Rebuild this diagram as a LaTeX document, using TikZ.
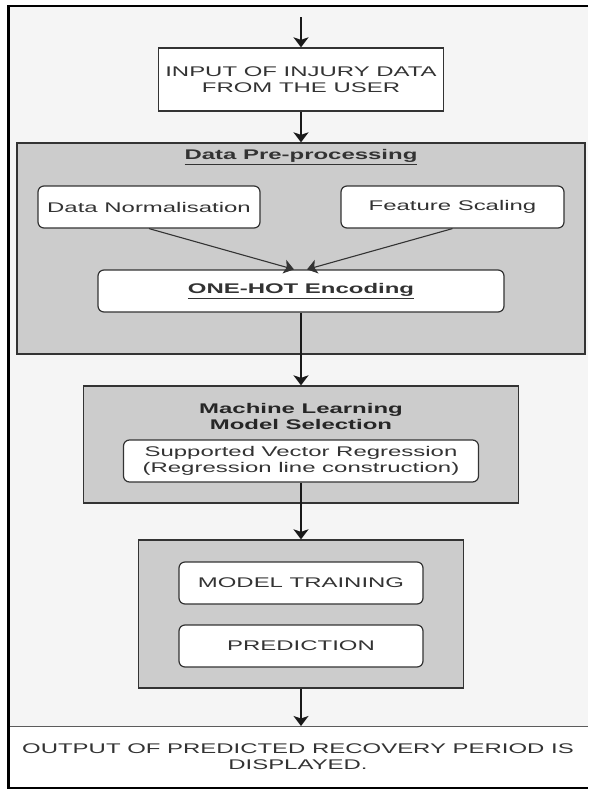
\documentclass[tikz,border=0pt]{standalone}
\usepackage{fontspec}
\setmainfont[FakeStretch=1.71]{Liberation Sans}
\usetikzlibrary{arrows.meta,calc}
\definecolor{bgc}{HTML}{F5F5F5}
\definecolor{grayfill}{HTML}{CCCCCC}
\definecolor{txt}{HTML}{333333}
\definecolor{edgec}{HTML}{333333}
\begin{document}
\begin{tikzpicture}[x=1pt,y=-1pt,
  every node/.style={font=\fontsize{14}{15.5}\selectfont, text=txt, inner sep=0pt},
  group/.style={draw=edgec, fill=grayfill, line width=1.3pt},
  rbox/.style={draw=edgec, fill=white, rounded corners=6pt, line width=1.2pt, align=center},
  sqbox/.style={draw=edgec, fill=white, line width=1.3pt, align=center},
  conn/.style={draw=black!90, line width=1.7pt, -{Stealth[width=15pt,length=10pt,inset=2.5pt]}},
  diag/.style={draw=edgec, line width=1.1pt, -{Stealth[width=14pt,length=10pt,inset=2.5pt]}},
]
\useasboundingbox (0,0) rectangle (589,790);
\fill[white] (0,0) rectangle (589,790);
\fill[bgc] (8.5,6) rectangle (588,788);

% output box (behind frame)
\fill[white] (8.5,726) rectangle (588,788);
\node[minimum width=579.5, minimum height=62, anchor=north west] (outbox) at (8.5,726) {};
\draw[draw=edgec!80, line width=1pt] (outbox.north west) -- (outbox.north east);
\node[align=center] (outtxt) at (298,756.5) {OUTPUT OF PREDICTED RECOVERY PERIOD IS\\DISPLAYED.};

% frame
\draw[line width=2.5pt] (588,6) -- (8.5,6) -- (8.5,788) -- (588,788);

% input
\coordinate (start) at (301,17);
\node[sqbox, minimum width=285, minimum height=63] (inp) at (301,79.5) {INPUT OF INJURY DATA\\FROM THE USER};

% pre-processing group
\node[group, minimum width=568, minimum height=211] (pre) at (301,248.5) {};
\node (pretitle) at (301,157) {\bfseries\underline{Data Pre-processing}};
\node[rbox, minimum width=222, minimum height=42] (dn) at (149,207) {Data Normalisation};
\node[rbox, minimum width=223, minimum height=42] (fs) at (452.5,207) {Feature Scaling};
\node[rbox, minimum width=406, minimum height=42] (oh) at (301,291) {\bfseries\underline{ONE-HOT Encoding}};

% ML group
\node[group, minimum width=435, minimum height=117] (ml) at (301,444.5) {};
\node[align=center, text=black!85] (mltitle) at (301,416.5) {\bfseries Machine Learning\\\bfseries Model Selection};
\node[rbox, minimum width=355, minimum height=42] (svr) at (301,461) {Supported Vector Regression\\(Regression line construction)};

% training group
\node[group, minimum width=325, minimum height=148] (trg) at (301,614) {};
\node[rbox, minimum width=244, minimum height=42] (mt) at (301,583) {MODEL TRAINING};
\node[rbox, minimum width=244, minimum height=42] (pred) at (301,646) {PREDICTION};

% connectors
\draw[conn] (start) -- (inp.north);
\draw[conn] (inp.south) -- (pre.north);
\draw[diag] (dn.south) -- ([xshift=-7pt]oh.north);
\draw[diag] (fs.south) -- ([xshift=6pt]oh.north);
\draw[conn] (oh.south) -- (ml.north);
\draw[conn] (svr.south) -- (trg.north);
\draw[conn] (trg.south) -- (trg.south |- outbox.north);
\end{tikzpicture}
\end{document}
